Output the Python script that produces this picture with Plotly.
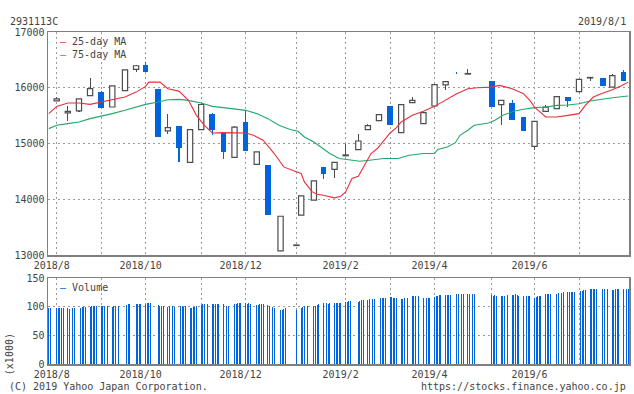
import pandas as pd
import plotly.graph_objects as go

# ---------------- data ----------------
candle_dates = ["2018-08-06", "2018-08-13", "2018-08-20", "2018-08-27", "2018-09-03", "2018-09-10",
                "2018-09-18", "2018-09-25", "2018-10-01", "2018-10-09", "2018-10-15", "2018-10-22",
                "2018-10-29", "2018-11-05", "2018-11-12", "2018-11-19", "2018-11-26", "2018-12-03",
                "2018-12-10", "2018-12-17", "2018-12-25", "2019-01-04", "2019-01-07", "2019-01-15",
                "2019-01-21", "2019-01-28", "2019-02-04", "2019-02-12", "2019-02-18", "2019-02-25",
                "2019-03-04", "2019-03-11", "2019-03-18", "2019-03-25", "2019-04-01", "2019-04-08",
                "2019-04-15", "2019-04-22", "2019-05-07", "2019-05-13", "2019-05-20", "2019-05-27",
                "2019-06-03", "2019-06-10", "2019-06-17", "2019-06-24", "2019-07-01", "2019-07-08",
                "2019-07-16", "2019-07-22", "2019-07-29"]
open_ = [15765, 15550, 15585, 15860, 15915, 15655, 15950, 16330, 16400, 15970, 15225, 15310,
         14660, 15250, 15535, 15190, 14750, 15385, 14625, 14610, 13075, 13170, 13715, 13985,
         14570, 14535, 14780, 14890, 15250, 15410, 15666, 15196, 15735, 15357, 15673, 16050,
         16255, 16245, 16114, 15697, 15720, 15470, 14950, 15577, 15625, 15827, 15930, 16175,
         16168, 16012, 16280]
high = [15830, 15665, 15805, 16170, 15935, 16040, 16325, 16400, 16470, 15975, 15535, 15315,
        15255, 15705, 15540, 15195, 15310, 15575, 14855, 14615, 13700, 13185, 14065, 14335,
        14575, 14665, 14985, 15165, 15357, 15520, 15670, 15700, 15833, 15558, 16060, 16115,
        16275, 16340, 16118, 15778, 15774, 15475, 15402, 15684, 15845, 15832, 16155, 16190,
        16180, 16239, 16310]
low = [15760, 15405, 15565, 15855, 15640, 15650, 15945, 16290, 16285, 15115, 15170, 14670,
       14655, 15245, 15150, 14725, 14745, 14860, 14620, 13715, 13070, 13170, 13710, 13980,
       14365, 14390, 14775, 14885, 15245, 15405, 15328, 15190, 15730, 15352, 15668, 15965,
       16240, 16240, 15650, 15340, 15416, 15220, 14879, 15572, 15620, 15654, 15925, 16114,
       16025, 16008, 16115]
close = [15800, 15575, 15800, 15985, 15645, 16035, 16320, 16395, 16290, 15120, 15285, 14920,
         15250, 15700, 15250, 14850, 15295, 14865, 14850, 13720, 13695, 13180, 14060, 14330,
         14445, 14660, 14795, 15045, 15320, 15518, 15332, 15696, 15775, 15554, 16055, 16110,
         16245, 16255, 15655, 15774, 15421, 15225, 15398, 15654, 15840, 15761, 16150, 16185,
         16030, 16216, 16120]

ma25_dates = ["2018-08-01", "2018-08-06", "2018-08-13", "2018-08-20", "2018-08-27", "2018-09-03",
              "2018-09-10", "2018-09-18", "2018-09-25", "2018-10-01", "2018-10-03", "2018-10-10",
              "2018-10-15", "2018-10-22", "2018-10-28", "2018-11-02", "2018-11-07", "2018-11-12",
              "2018-11-19", "2018-11-26", "2018-12-03", "2018-12-08", "2018-12-14", "2018-12-21",
              "2018-12-27", "2019-01-03", "2019-01-07", "2019-01-09", "2019-01-14", "2019-01-17",
              "2019-01-21", "2019-01-28", "2019-02-01", "2019-02-04", "2019-02-08", "2019-02-12",
              "2019-02-16", "2019-02-20", "2019-02-24", "2019-02-28", "2019-03-04", "2019-03-08",
              "2019-03-11", "2019-03-18", "2019-03-25", "2019-04-01", "2019-04-08", "2019-04-15",
              "2019-04-22", "2019-04-28", "2019-05-07", "2019-05-12", "2019-05-20", "2019-05-27",
              "2019-05-31", "2019-06-03", "2019-06-10", "2019-06-17", "2019-06-24", "2019-07-01",
              "2019-07-05", "2019-07-10", "2019-07-15", "2019-07-22", "2019-07-28", "2019-08-01"]
ma25 = [15536, 15666, 15726, 15726, 15702, 15744, 15774, 15833, 15922, 16024, 16101, 16101,
        15983, 15940, 15774, 15505, 15326, 15189, 15195, 15190, 15189, 15147, 15058, 14820,
        14580, 14503, 14462, 14312, 14132, 14091, 14073, 14025, 14055, 14132, 14372, 14413,
        14623, 14820, 14910, 15058, 15189, 15285, 15386, 15505, 15577, 15666, 15774, 15894,
        15983, 16001, 16012, 16042, 15983, 15894, 15774, 15654, 15475, 15475, 15505, 15536,
        15684, 15833, 15894, 15965, 16042, 16101]

ma75_dates = ["2018-08-01", "2018-08-06", "2018-08-13", "2018-08-20", "2018-08-27", "2018-09-03",
              "2018-09-10", "2018-09-18", "2018-09-25", "2018-10-01", "2018-10-09", "2018-10-15",
              "2018-10-22", "2018-10-28", "2018-11-05", "2018-11-12", "2018-11-19", "2018-11-26",
              "2018-12-03", "2018-12-10", "2018-12-17", "2018-12-24", "2018-12-31", "2019-01-05",
              "2019-01-09", "2019-01-15", "2019-01-19", "2019-01-25", "2019-01-31", "2019-02-07",
              "2019-02-13", "2019-02-19", "2019-02-28", "2019-03-09", "2019-03-16", "2019-03-25",
              "2019-04-01", "2019-04-03", "2019-04-09", "2019-04-14", "2019-04-17", "2019-04-22",
              "2019-04-26", "2019-05-05", "2019-05-09", "2019-05-14", "2019-05-21", "2019-05-27",
              "2019-06-03", "2019-06-10", "2019-06-17", "2019-06-24", "2019-07-01", "2019-07-08",
              "2019-07-15", "2019-07-22", "2019-08-01"]
ma75 = [15267, 15326, 15357, 15386, 15446, 15487, 15536, 15595, 15654, 15702, 15744, 15785,
        15791, 15774, 15726, 15666, 15643, 15625, 15595, 15536, 15446, 15326, 15250, 15219,
        15117, 15028, 14938, 14820, 14730, 14700, 14682, 14700, 14730, 14730, 14790, 14820,
        14820, 14892, 14938, 15010, 15147, 15237, 15326, 15368, 15416, 15505, 15577, 15613,
        15643, 15654, 15684, 15690, 15714, 15761, 15797, 15821, 15851]

# daily volume (x1000), one list per trading week
volume_weeks = [
    [97, 97, 97], [97, 98, 97, 98, 98], [97, 96, 96, 97, 98], [98, 98, 99, 99, 99],
    [100, 101, 101, 102, 101], [101, 101, 101, 100, 101], [100, 101, 101, 102, 102],
    [103, 103, 104, 104], [104, 104, 105, 105], [105, 106, 106, 106, 105], [103, 102, 101, 102],
    [100, 101, 102, 101, 100], [100, 101, 101, 100, 101], [97, 98, 99, 100, 101],
    [103, 104, 105, 105, 105], [105, 104, 104, 105, 104], [104, 103, 102, 102],
    [104, 105, 106, 106, 106], [107, 105, 106, 105, 105], [103, 103, 104, 104, 104],
    [103, 102, 102, 100, 98], [94, 95, 96, 97], [95], [98, 100, 101, 101, 101],
    [101, 102, 103, 104], [106, 106, 106, 105, 106], [106, 106, 106, 106, 106],
    [108, 109, 110, 110, 110], [109, 110, 111, 111], [112, 113, 113, 113, 113],
    [114, 115, 115, 115, 115], [117, 117, 116, 116, 116], [113, 114, 115, 116, 116],
    [118, 118, 118, 118], [115, 115, 116, 115, 115], [117, 118, 119, 120, 120],
    [120, 120, 120, 120, 120], [122, 122, 122, 122, 122], [122, 122, 122, 122, 122],
    [120, 119, 120, 119], [119, 118, 118, 119, 120], [120, 121, 122, 120, 119],
    [119, 119, 119, 119, 119], [116, 117, 118, 118, 119], [122, 122, 122, 122, 122],
    [122, 123, 124, 124, 126], [126, 125, 125, 125, 126], [126, 127, 128, 129, 129],
    [130, 130, 130, 130, 130], [130, 130, 130, 130], [129, 129, 130, 131, 131],
    [131, 132, 131, 131],
]
market_holidays = ["2018-09-17", "2018-09-24", "2018-10-08", "2018-11-23", "2018-12-24",
                   "2018-12-31", "2019-01-01", "2019-01-02", "2019-01-03", "2019-01-14",
                   "2019-02-11", "2019-03-21", "2019-04-29", "2019-04-30", "2019-05-01",
                   "2019-05-02", "2019-05-03", "2019-05-06", "2019-07-15"]

month_grid = ["2018-08-06", "2018-09-03", "2018-10-01", "2018-11-05", "2018-12-03", "2019-01-04",
              "2019-02-04", "2019-03-04", "2019-04-01", "2019-05-07", "2019-06-03", "2019-07-01"]
month_labels = ["2018/8", "", "2018/10", "", "2018/12", "", "2019/2", "", "2019/4", "", "2019/6", ""]
price_ticks = [13000, 14000, 15000, 16000, 17000]
volume_ticks = [0, 50, 100, 150]

# ---------------- derived ----------------
days = pd.bdate_range("2018-08-01", "2019-08-01")
days = days[~days.isin(pd.to_datetime(market_holidays))]
vol_days, vol_vals = [], []
wk_groups = {}
for d in days:
    wk_groups.setdefault(d - pd.Timedelta(days=d.weekday()), []).append(d)
groups = [wk_groups[k] for k in sorted(wk_groups)]
assert len(groups) == len(volume_weeks), (len(groups), len(volume_weeks))
for g, v in zip(groups, volume_weeks):
    assert len(g) == len(v), (g[0], len(g), len(v))
    vol_days += list(g)
    vol_vals += v

DAY = 86400000
BLUE = "#0064dc"
GRAY = "#4d4d4d"
RED = "#e8303a"
GREEN = "#22a868"
FONT = "DejaVu Sans Mono"
TXT = "#444444"

up = [i for i in range(len(candle_dates)) if close[i] >= open_[i]]
dn = [i for i in range(len(candle_dates)) if close[i] < open_[i]]

def pick(arr, idx):
    return [arr[i] for i in idx]

fig = go.Figure()
for idx, col in ((up, GRAY), (dn, BLUE)):
    fig.add_trace(go.Bar(
        x=pick(candle_dates, idx), base=pick(low, idx),
        y=[high[i] - low[i] for i in idx], width=0.7 * DAY,
        marker=dict(color=col, line=dict(width=0)), xaxis="x", yaxis="y",
        showlegend=False, hoverinfo="skip"))
fig.add_trace(go.Bar(
    x=pick(candle_dates, up), base=pick(open_, up),
    y=[close[i] - open_[i] for i in up], width=3.3 * DAY,
    marker=dict(color="white", line=dict(color=GRAY, width=1.2)),
    xaxis="x", yaxis="y", showlegend=False, hoverinfo="skip"))
fig.add_trace(go.Bar(
    x=pick(candle_dates, dn), base=pick(close, dn),
    y=[open_[i] - close[i] for i in dn], width=3.6 * DAY,
    marker=dict(color=BLUE, line=dict(width=0)),
    xaxis="x", yaxis="y", showlegend=False, hoverinfo="skip"))
fig.add_trace(go.Scatter(x=ma75_dates, y=ma75, mode="lines", line=dict(color=GREEN, width=1.1),
                         xaxis="x", yaxis="y", showlegend=False, hoverinfo="skip"))
fig.add_trace(go.Scatter(x=ma25_dates, y=ma25, mode="lines", line=dict(color=RED, width=1.1),
                         xaxis="x", yaxis="y", showlegend=False, hoverinfo="skip"))
fig.add_trace(go.Bar(x=vol_days, y=vol_vals, width=0.55 * DAY,
                     marker=dict(color=BLUE, line=dict(width=0)),
                     xaxis="x2", yaxis="y2", showlegend=False, hoverinfo="skip"))

xr = ["2018-07-31 12:00", "2019-08-01 12:00"]
grid = dict(showgrid=True, gridcolor="#9a9a9a", griddash="2px,3px", gridwidth=1)
frame = dict(showline=True, mirror=True, linecolor="#808080", linewidth=1.5, zeroline=False,
             ticks="", tickfont=dict(family=FONT, size=10, color=TXT))
xcommon = dict(type="date", range=xr, tickmode="array", tickvals=month_grid, ticktext=month_labels,
               ticklabelshift=-5, **grid, **frame)

fig.update_layout(
    width=634, height=394, margin=dict(l=48, r=3, t=32, b=30, pad=0),
    paper_bgcolor="white", plot_bgcolor="white", barmode="overlay", bargap=0,
    font=dict(family=FONT, size=10, color=TXT),
    xaxis=dict(anchor="y", domain=[0, 1], **xcommon),
    yaxis=dict(anchor="x", domain=[0.3283, 1], range=[13000, 17000], tickmode="array",
               tickvals=price_ticks, ticktext=[str(v) for v in price_ticks], **grid, **frame),
    xaxis2=dict(anchor="y2", domain=[0, 1], matches="x", **xcommon),
    yaxis2=dict(anchor="x2", domain=[0, 0.259], range=[0, 150], tickmode="array",
                tickvals=volume_ticks, ticktext=[str(v) for v in volume_ticks], **grid, **frame),
)

def ann(text, x, y, xanchor="left", **kw):
    fig.add_annotation(text=text, x=x, y=y, xref="paper", yref="paper", xanchor=xanchor,
                       yanchor="middle", showarrow=False,
                       font=dict(family=FONT, size=10, color=TXT), **kw)

ann("2931113C", -0.0686, 1.0331)
ann("2019/8/1", 0.9983, 1.0331, xanchor="right")
ann("(C) 2019 Yahoo Japan Corporation.", -0.0703, -0.0663)
ann("https://stocks.finance.yahoo.co.jp", 0.9983, -0.0678, xanchor="right")
ann("(x1000)", -0.0669, 0.030, xanchor="center", textangle=-90)
ann(f"<span style='color:{RED}'>\u2013</span> 25-day MA", 0.0172, 0.9714)
ann(f"<span style='color:{GREEN}'>\u2013</span> 75-day MA", 0.0172, 0.9337)
ann(f"<span style='color:{BLUE}'>\u2013</span> Volume", 0.0172, 0.231)

fig.write_html("out.html", config={"displayModeBar": False, "staticPlot": True},
               post_script="document.body.style.margin='0';document.body.style.overflow='hidden';")
